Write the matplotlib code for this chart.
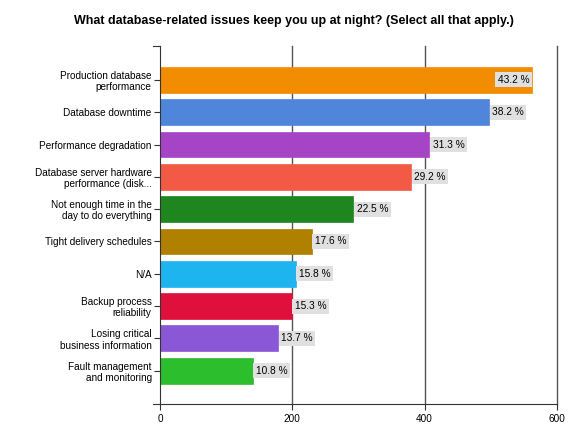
import matplotlib
matplotlib.use("Agg")
import matplotlib.pyplot as plt
import numpy as np

plt.rcParams['font.family'] = ['Liberation Sans', 'DejaVu Sans']

categories = [
    "Production database\nperformance",
    "Database downtime",
    "Performance degradation",
    "Database server hardware\nperformance (disk...",
    "Not enough time in the\nday to do everything",
    "Tight delivery schedules",
    "N/A",
    "Backup process\nreliability",
    "Losing critical\nbusiness information",
    "Fault management\nand monitoring",
]
counts = [562, 497, 407, 379, 292, 229, 205, 199, 178, 140]
percents = [43.2, 38.2, 31.3, 29.2, 22.5, 17.6, 15.8, 15.3, 13.7, 10.8]
colors = ["#f28c00", "#4f86dc", "#a545c5", "#f25a45", "#1f851f",
          "#b08000", "#1eb4f0", "#e0103c", "#8a58d6", "#2cbe2c"]
xticks = [0, 200, 400, 600]

fig = plt.figure(figsize=(5.88, 4.41), dpi=100)
ax = fig.add_axes([0.2721, 0.0839, 0.6752, 0.8118])

y = np.arange(len(categories))
for v in xticks[1:]:
    ax.axvline(v, color="#555555", lw=1.0, zorder=0, clip_on=False)

ax.barh(y, counts, height=0.8, color=colors, edgecolor=colors,
        linewidth=0.5, zorder=2)

for i, (c, p) in enumerate(zip(counts, percents)):
    txt = f"{p:.1f} %"
    box = dict(boxstyle="square,pad=0.25", fc="#e0e0e0", ec="none")
    if c > 520:
        ax.text(c - 4, i, txt, ha="right", va="center", fontsize=7.3, bbox=box, zorder=3)
    else:
        ax.text(c + 5, i, txt, ha="left", va="center", fontsize=7.3, bbox=box, zorder=3)

ax.set_xlim(0, 600)
ax.set_ylim(len(categories) - 1 + 1.03, -1.05)
ax.set_yticks(y)
ax.set_yticklabels(categories, fontsize=7.2, linespacing=1.15)
ax.set_xticks(xticks)
ax.tick_params(axis="x", labelsize=7.2, length=4, color="#333333", pad=3)
ax.tick_params(axis="y", length=4, color="#333333", pad=2)

for s in ["top", "right"]:
    ax.spines[s].set_visible(False)
ax.spines["left"].set_color("#333333")
ax.spines["bottom"].set_color("#333333")
# little stubs left of the axes, like the original
ax.plot([-0.018, 0], [0, 0], transform=ax.transAxes, color="#333333", lw=0.8, clip_on=False)
ax.plot([-0.018, 0], [1, 1], transform=ax.transAxes, color="#333333", lw=0.8, clip_on=False)

fig.suptitle("What database-related issues keep you up at night? (Select all that apply.)",
             fontsize=9, fontweight="bold", y=0.965)

fig.savefig("out.png", dpi=100)
